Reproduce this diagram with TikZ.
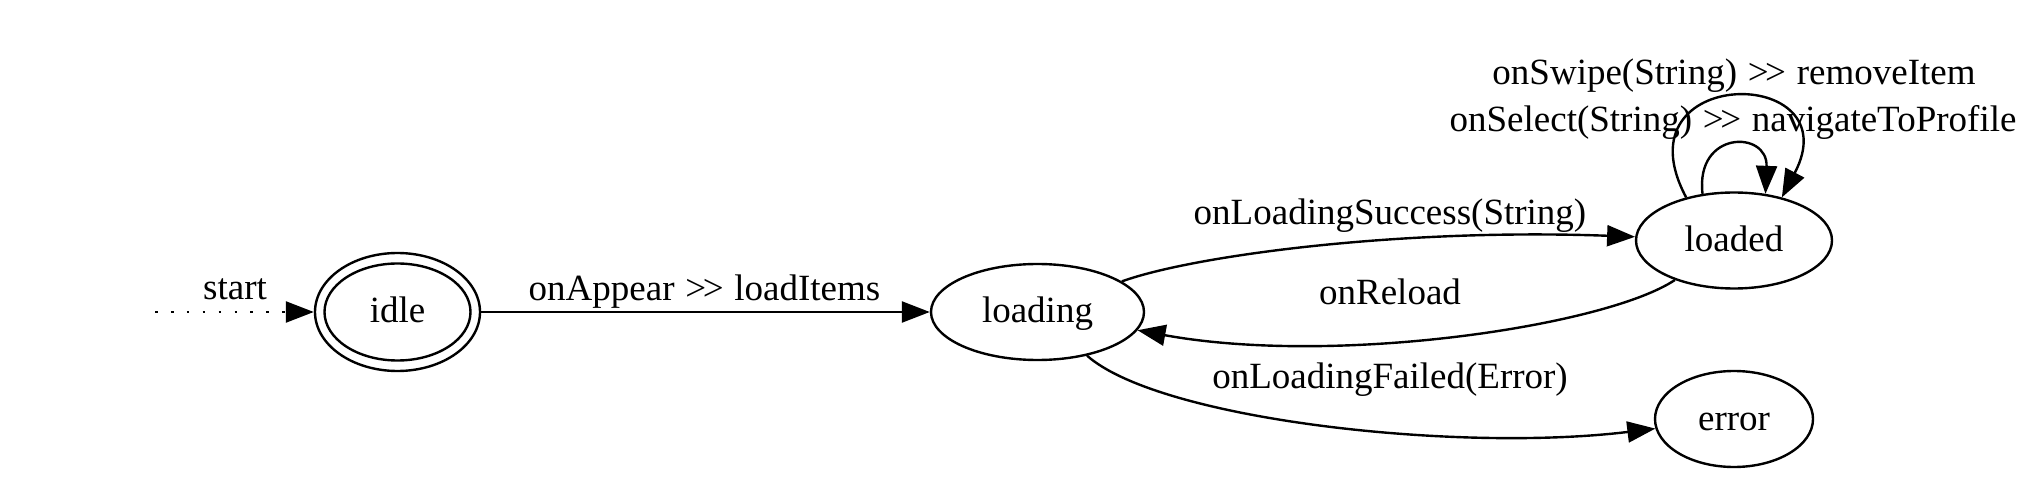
\documentclass[tikz,border=0pt]{standalone}
\usepackage{fontspec}
\setmainfont{Liberation Serif}
\usetikzlibrary{arrows.meta,shapes.geometric}
\newcommand{\dblgt}{\kern1.5pt>\kern-3.5pt>\kern1.5pt}
\begin{document}
\begin{tikzpicture}[x=1pt,y=-1pt,
  every node/.style={font=\fontsize{37}{44}\selectfont},
  state/.style={ellipse, draw, line width=2.4pt, inner sep=0pt, minimum height=96pt, text height=25pt, text depth=3pt},
  ring/.style={ellipse, draw, line width=2.4pt, inner sep=0pt},
  lbl/.style={anchor=base, inner sep=0pt},
  edge/.style={line width=2.4pt, -{Triangle[length=28pt,width=21pt]}},
  startline/.style={edge, dash pattern=on 2.6pt off 13.3pt},
]
\useasboundingbox (0,0) rectangle (2032,478);
% states
\node[state, minimum width=146pt, minimum height=97pt] (idle) at (397.5,312) {idle};
\node[ring, minimum width=165pt, minimum height=118pt] (idleout) at (397.5,312) {};
\node[state, minimum width=213pt] (loading) at (1037.5,312) {loading};
\node[state, minimum width=196pt] (loaded) at (1734,240.5) {loaded};
\node[state, minimum width=158pt] (error) at (1734,419) {error};
% start
\coordinate (s0) at (155,312);
\draw[startline] (s0) -- (idleout.west);
\node[lbl] (lstart) at (235,300) {start};
% edges
\draw[edge] (idleout) -- (loading);
\node[lbl] (lappear) at (704.5,301) {onAppear \dblgt{} loadItems};
\draw[edge] (loading) .. controls (1193,255.6) and (1400,228) .. (loaded);
\node[lbl] (lsucc) at (1390,225) {onLoadingSuccess(String)};
\draw[edge] (loaded) .. controls (1606,326) and (1336,366.4) .. (loading);
\node[lbl] (lreload) at (1390,305) {onReload};
\draw[edge] (loading) .. controls (1160,420) and (1457.6,452.7) .. (error);
\node[lbl] (lfail) at (1390,388) {onLoadingFailed(Error)};
% self loops
\draw[edge] (loaded.124) .. controls (1695,130) and (1768,130) .. (loaded.56);
\draw[edge] (loaded.138) .. controls (1615,64) and (1852,64) .. (loaded.42);
\node[lbl] (lswipe) at (1734,85) {onSwipe(String) \dblgt{} removeItem};
\node[lbl] (lselect) at (1733,131.5) {onSelect(String) \dblgt{} navigateToProfile};
\end{tikzpicture}
\end{document}
